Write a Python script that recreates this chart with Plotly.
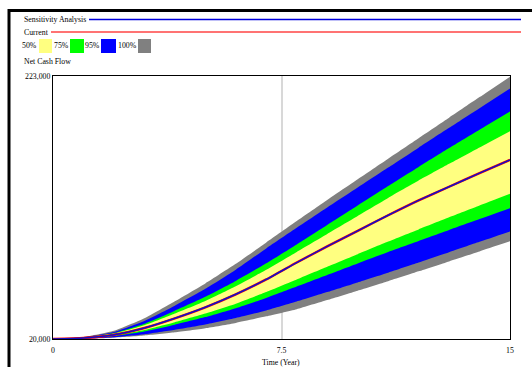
import plotly.graph_objects as go

# Simulation time (years)
years = [0, 1, 2, 3, 4, 5, 6, 7, 8, 9, 10, 11, 12, 13, 14, 15]

# Net cash flow, current run and sensitivity mean
current = [20000, 20800, 23300, 28500, 36000, 44500, 54500, 66000, 79000,
           91500, 103500, 115500, 127000, 137500, 148000, 158300]
sensitivity = [20000, 20800, 23300, 28500, 36000, 44500, 54500, 66000, 79000,
               91500, 103500, 115500, 127000, 137500, 148000, 158300]

# Confidence bounds of the sensitivity runs
b100_hi = [20000, 21500, 26300, 36000, 49100, 62900, 78000, 94500, 111000,
           127300, 143300, 159200, 175000, 190800, 206700, 222500]
b100_lo = [20000, 20240, 20990, 22635, 25120, 28330, 32420, 37480, 43010,
           50030, 57300, 64600, 72200, 79900, 87600, 95375]
b95_hi = [20000, 21300, 25450, 33940, 45760, 58710, 73475, 89920, 105800,
          121500, 136900, 152300, 167700, 183000, 198200, 213400]
b95_lo = [20000, 20345, 21420, 23740, 27200, 31270, 36215, 42080, 48910,
          56200, 63700, 71200, 79000, 87000, 95000, 102980]
b75_hi = [20000, 21100, 24620, 31800, 41900, 52600, 64850, 78400, 93000,
          108000, 123000, 138000, 152800, 167400, 181600, 195640]
b75_lo = [20000, 20550, 22280, 25865, 31040, 36905, 43805, 51740, 60500,
          69400, 78300, 87200, 95700, 104200, 112600, 120960]
b50_hi = [20000, 21010, 24160, 30625, 39680, 49400, 60710, 73360, 87200,
          101100, 115000, 128900, 142300, 155200, 167900, 180430]
b50_lo = [20000, 20660, 22710, 26970, 32960, 39600, 47255, 56340, 66000,
          75800, 85500, 95200, 104600, 113900, 123000, 132020]

y_ticks = [20000, 223000]
y_tick_text = ["20,000", "223,000"]
x_ticks = [0, 7.5, 15]
x_tick_text = ["0", "7.5", "15"]

bands = [
    ("100%", b100_lo, b100_hi, "#808080"),
    ("95%", b95_lo, b95_hi, "#0000ff"),
    ("75%", b75_lo, b75_hi, "#00ff00"),
    ("50%", b50_lo, b50_hi, "#ffff80"),
]

FONT = "Liberation Serif"
FS = 7.8
W, H = 532, 367
ML, MR, MT, MB = 53, 22, 76, 28
PW, PH = W - ML - MR, H - MT - MB


def px(x):
    return (x - ML) / PW


def py(y):
    return (H - MB - y) / PH


fig = go.Figure()

curve = dict(shape="spline", smoothing=0.5)
for name, lo, hi, color in bands:
    fig.add_trace(go.Scatter(x=years, y=lo, mode="lines",
                             line=dict(width=0, color=color, **curve),
                             hoverinfo="skip", showlegend=False))
    fig.add_trace(go.Scatter(x=years, y=hi, mode="lines", fill="tonexty",
                             fillcolor=color, line=dict(width=0, color=color, **curve),
                             hoverinfo="skip", showlegend=False, name=name))

fig.add_trace(go.Scatter(x=years, y=current, mode="lines",
                         line=dict(color="#ff0000", width=2.4, **curve),
                         showlegend=False, name="Current"))
fig.add_trace(go.Scatter(x=years, y=sensitivity, mode="lines",
                         line=dict(color="#1010c8", width=1.5, **curve),
                         showlegend=False, name="Sensitivity Analysis"))

shapes = []
# outer window frame (top and left)
shapes.append(dict(type="line", xref="paper", yref="paper", x0=px(8), x1=px(532),
                   y0=py(10.5), y1=py(10.5), line=dict(color="black", width=3)))
shapes.append(dict(type="line", xref="paper", yref="paper", x0=px(9), x1=px(9),
                   y0=py(9), y1=py(367), line=dict(color="black", width=3)))
# legend lines
shapes.append(dict(type="line", xref="paper", yref="paper", x0=px(89), x1=px(521),
                   y0=py(19.5), y1=py(19.5), line=dict(color="#0000dd", width=1.3)))
shapes.append(dict(type="line", xref="paper", yref="paper", x0=px(51), x1=px(521),
                   y0=py(32), y1=py(32), line=dict(color="#ff4444", width=1.3)))
# legend swatches
for x0, x1, c in [(39, 52, "#ffff80"), (70, 84, "#00ff00"),
                  (101, 116, "#0000ff"), (138, 151, "#808080")]:
    shapes.append(dict(type="rect", xref="paper", yref="paper", x0=px(x0), x1=px(x1),
                       y0=py(53), y1=py(39), fillcolor=c, line=dict(width=0)))

annotations = []


def label(text, x, y, anchor="left"):
    annotations.append(dict(text=text, xref="paper", yref="paper", x=px(x), y=py(y),
                            xanchor=anchor, yanchor="middle", showarrow=False,
                            font=dict(family=FONT, size=FS, color="black")))


label("Sensitivity Analysis", 22, 19.5)
label("Current", 22, 32.5)
label("50%", 38.5, 46, anchor="right")
label("75%", 61.5, 46, anchor="center")
label("95%", 92.5, 46, anchor="center")
label("100%", 127, 46, anchor="center")
label("Net Cash Flow", 22, 61)
label("Time (Year)", 281, 362, anchor="center")

fig.update_layout(
    width=W, height=H,
    margin=dict(l=ML, r=MR, t=MT, b=MB),
    paper_bgcolor="white", plot_bgcolor="white",
    font=dict(family=FONT, size=FS, color="black"),
    shapes=shapes, annotations=annotations,
)
fig.update_xaxes(range=[0, 15], tickvals=x_ticks, ticktext=x_tick_text,
                 showgrid=True, gridcolor="#d8d8d8", gridwidth=1.5,
                 showline=True, linecolor="black", linewidth=1.2, mirror=True,
                 ticks="", zeroline=False, ticklabelstandoff=4,
                 tickfont=dict(family=FONT, size=FS, color="black"))
fig.update_yaxes(range=[20000, 223000], tickvals=y_ticks, ticktext=y_tick_text,
                 showgrid=False, showline=True, linecolor="black", linewidth=1.2,
                 mirror=True, ticks="", zeroline=False,
                 tickfont=dict(family=FONT, size=FS, color="black"))

fig.write_html("out.html")
